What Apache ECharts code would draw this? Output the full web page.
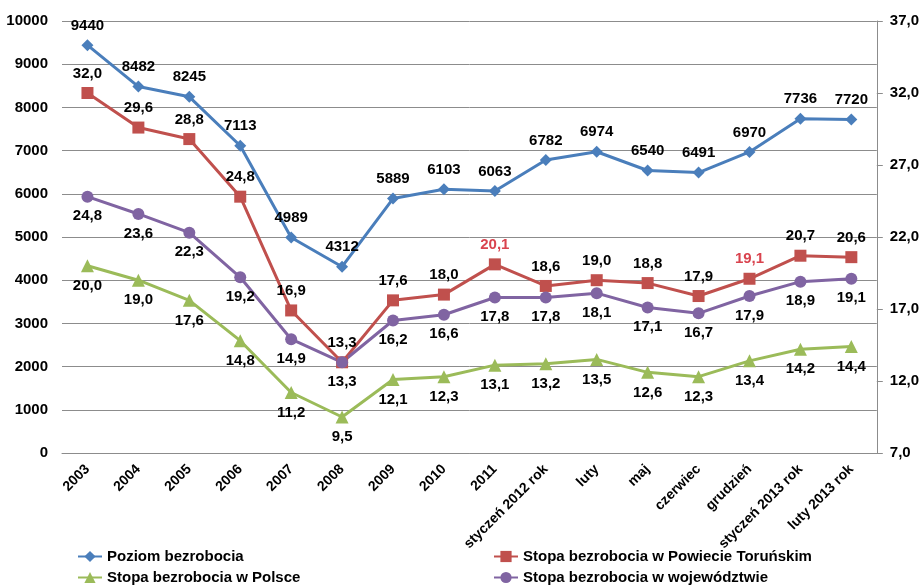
<!DOCTYPE html>
<html>
<head>
<meta charset="utf-8">
<script src="https://cdn.jsdelivr.net/npm/echarts@6/dist/echarts.min.js"></script>
<style>html,body{margin:0;padding:0;background:#fff}#c{width:922px;height:587px}</style>
</head>
<body>
<div id="c"></div>
<script>
const categories = ['2003','2004','2005','2006','2007','2008','2009','2010','2011','styczeń 2012 rok','luty','maj','czerwiec','grudzień','styczeń 2013 rok','luty 2013 rok'];
const poziom = [9440, 8482, 8245, 7113, 4989, 4312, 5889, 6103, 6063, 6782, 6974, 6540, 6491, 6970, 7736, 7720];
const powiat = [32.0, 29.6, 28.8, 24.8, 16.9, 13.3, 17.6, 18.0, 20.1, 18.6, 19.0, 18.8, 17.9, 19.1, 20.7, 20.6];
const polska = [20.0, 19.0, 17.6, 14.8, 11.2, 9.5, 12.1, 12.3, 13.1, 13.2, 13.5, 12.6, 12.3, 13.4, 14.2, 14.4];
const wojew = [24.8, 23.6, 22.3, 19.2, 14.9, 13.3, 16.2, 16.6, 17.8, 17.8, 18.1, 17.1, 16.7, 17.9, 18.9, 19.1];
const redLabelIdx = [8, 13];
const names = ['Poziom bezrobocia','Stopa bezrobocia w Powiecie Toruńskim','Stopa bezrobocia w Polsce','Stopa bezrobocia w województwie'];

const FONT = "'Liberation Sans', Arial, sans-serif";
const comma = v => v.toFixed(1).replace('.', ',');
const lbl = (pos, fmt) => ({show: true, position: pos, distance: 6, color: '#000', fontWeight: 'bold', fontSize: 15, fontFamily: FONT, formatter: p => fmt(p.value)});
const legendText = {color: '#000', fontWeight: 'bold', fontSize: 15, fontFamily: FONT};

const chart = echarts.init(document.getElementById('c'), null, {renderer: 'canvas'});
chart.setOption({
  animation: false,
  backgroundColor: '#fff',
  textStyle: {fontFamily: FONT},
  grid: {left: 62, right: 45, top: 21, bottom: 134, containLabel: false},
  legend: [
    {data: [names[0], names[2]], orient: 'vertical', left: 77, top: 549, padding: 0, itemWidth: 24, itemHeight: 14, itemGap: 6, textStyle: legendText},
    {data: [names[1], names[3]], orient: 'vertical', left: 493, top: 549, padding: 0, itemWidth: 24, itemHeight: 14, itemGap: 6, textStyle: legendText}
  ],
  xAxis: {
    type: 'category', data: categories, boundaryGap: true,
    axisLine: {show: true, lineStyle: {color: '#8c8c8c', width: 1}},
    axisTick: {show: false},
    axisLabel: {interval: 0, rotate: 45, margin: 14, color: '#000', fontWeight: 'bold', fontSize: 14, fontFamily: FONT}
  },
  yAxis: [
    {type: 'value', min: 0, max: 10000, interval: 1000, position: 'left',
     axisLine: {show: false}, axisTick: {show: false},
     axisLabel: {margin: 14, color: '#000', fontWeight: 'bold', fontSize: 15, fontFamily: FONT, formatter: v => String(v)},
     splitLine: {show: true, lineStyle: {color: '#8c8c8c', width: 1}}},
    {type: 'value', min: 7, max: 37, interval: 5, position: 'right',
     axisLine: {show: true, lineStyle: {color: '#8c8c8c', width: 1}},
     axisTick: {show: true, length: 6, lineStyle: {color: '#8c8c8c'}},
     axisLabel: {margin: 13, color: '#000', fontWeight: 'bold', fontSize: 15, fontFamily: FONT, formatter: v => comma(v)},
     splitLine: {show: false}}
  ],
  series: [
    {name: names[0], type: 'line', yAxisIndex: 0, data: poziom, symbol: 'diamond', symbolSize: 12,
     itemStyle: {color: '#4A7EBB'}, lineStyle: {color: '#4A7EBB', width: 3},
     label: lbl('top', v => String(v))},
    {name: names[1], type: 'line', yAxisIndex: 1,
     data: powiat.map((v, i) => redLabelIdx.includes(i) ? {value: v, label: {color: '#D9434E'}} : v),
     symbol: 'rect', symbolSize: 12,
     itemStyle: {color: '#C0504D'}, lineStyle: {color: '#C0504D', width: 3},
     label: lbl('top', comma)},
    {name: names[2], type: 'line', yAxisIndex: 1, data: polska, symbol: 'triangle', symbolSize: 13,
     itemStyle: {color: '#9BBB59'}, lineStyle: {color: '#9BBB59', width: 3},
     label: lbl('bottom', comma)},
    {name: names[3], type: 'line', yAxisIndex: 1, data: wojew, symbol: 'circle', symbolSize: 12,
     itemStyle: {color: '#8064A2'}, lineStyle: {color: '#8064A2', width: 3},
     label: lbl('bottom', comma)}
  ]
});
</script>
</body>
</html>
